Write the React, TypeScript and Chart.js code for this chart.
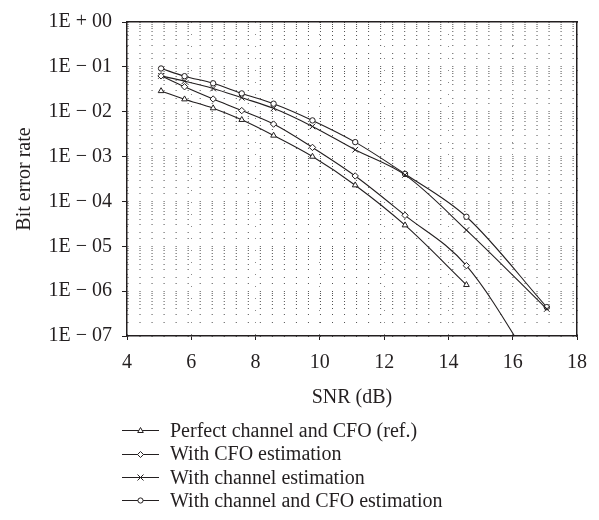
import React, { useEffect, useRef } from 'react';
import { Chart, registerables } from 'chart.js';

Chart.register(...registerables);

// ---- data ----
const SNR_DB = [5.06, 5.79, 6.68, 7.57, 8.56, 9.77, 11.1, 12.65, 14.56, 17.06];
const BER_PERFECT = [2.9e-2, 1.9e-2, 1.2e-2, 6.6e-3, 2.95e-3, 1.0e-3, 2.3e-4, 2.95e-5, 1.38e-6];
const BER_CFO_EST = [6.3e-2, 3.6e-2, 1.92e-2, 1.06e-2, 5.3e-3, 1.6e-3, 3.7e-4, 4.9e-5, 3.7e-6, 7e-9];
const BER_CHAN_EST = [6.3e-2, 4.8e-2, 3.3e-2, 2.05e-2, 1.19e-2, 4.7e-3, 1.42e-3, 3.9e-4, 2.3e-5, 4.0e-7];
const BER_CHAN_CFO_EST = [9.2e-2, 6.2e-2, 4.3e-2, 2.56e-2, 1.51e-2, 6.4e-3, 2.1e-3, 4.1e-4, 4.55e-5, 4.4e-7];

const SERIES_LABELS = [
  'Perfect channel and CFO (ref.)',
  'With CFO estimation',
  'With channel estimation',
  'With channel and CFO estimation',
];
const X_TICKS = [4, 6, 8, 10, 12, 14, 16, 18];
const X_TITLE = 'SNR (dB)';
const Y_TITLE = 'Bit error rate';

const INK = '#231f20';
const FONT = "'Liberation Serif', 'Times New Roman', serif";

const isDecade = (v: number) => {
  const l = Math.log10(v);
  return Math.abs(l - Math.round(l)) < 1e-6;
};
const fmtDecade = (v: number) => {
  if (!isDecade(v)) return '';
  const e = Math.round(Math.log10(v));
  const sign = e >= 0 ? '+' : '\u2212';
  return `1E ${sign} ${String(Math.abs(e)).padStart(2, '0')}`;
};

const toPoints = (ys: number[]) => ys.map((y, i) => ({ x: SNR_DB[i], y }));

function LegendIcon({ kind }: { kind: number }) {
  const cx = 18.5, cy = 6.5;
  let marker: React.ReactNode = null;
  if (kind === 0) marker = <polygon points={`${cx},${cy - 3} ${cx + 2.8},${cy + 2} ${cx - 2.8},${cy + 2}`} fill="#fff" stroke={INK} strokeWidth={1} />;
  if (kind === 1) marker = <polygon points={`${cx},${cy - 3} ${cx + 3},${cy} ${cx},${cy + 3} ${cx - 3},${cy}`} fill="#fff" stroke={INK} strokeWidth={1} />;
  if (kind === 2) marker = (
    <g stroke={INK} strokeWidth={1}>
      <line x1={cx - 3} y1={cy - 3} x2={cx + 3} y2={cy + 3} />
      <line x1={cx - 3} y1={cy + 3} x2={cx + 3} y2={cy - 3} />
    </g>
  );
  if (kind === 3) marker = <circle cx={cx} cy={cy} r={2.6} fill="#fff" stroke={INK} strokeWidth={1} />;
  return (
    <svg width={37} height={13} style={{ display: 'block' }}>
      <line x1={0} y1={cy} x2={37} y2={cy} stroke={INK} strokeWidth={1.1} />
      {marker}
    </svg>
  );
}

export default function App() {
  const ref = useRef<HTMLCanvasElement | null>(null);

  useEffect(() => {
    if (!ref.current) return;
    Chart.defaults.font.family = FONT;
    Chart.defaults.color = INK;

    const common = {
      borderColor: INK,
      borderWidth: 1.1,
      pointBorderColor: INK,
      pointBackgroundColor: '#ffffff',
      pointBorderWidth: 1,
      cubicInterpolationMode: 'monotone' as const,
      fill: false,
    };

    const chart = new Chart(ref.current, {
      type: 'line',
      data: {
        datasets: [
          { ...common, label: SERIES_LABELS[0], data: toPoints(BER_PERFECT), pointStyle: 'triangle', pointRadius: 3.3 },
          { ...common, label: SERIES_LABELS[1], data: toPoints(BER_CFO_EST), pointStyle: 'rectRot', pointRadius: 3.2 },
          { ...common, label: SERIES_LABELS[2], data: toPoints(BER_CHAN_EST), pointStyle: 'crossRot', pointRadius: 4 },
          { ...common, label: SERIES_LABELS[3], data: toPoints(BER_CHAN_CFO_EST), pointStyle: 'circle', pointRadius: 2.7 },
        ],
      },
      options: {
        responsive: false,
        animation: false,
        devicePixelRatio: 1,
        layout: { padding: { left: 0, top: 20, right: 22, bottom: 0 } },
        plugins: { legend: { display: false }, tooltip: { enabled: false } },
        scales: {
          x: {
            type: 'linear',
            position: 'bottom',
            min: 4,
            max: 18,
            afterBuildTicks: (s: any) => { s.ticks = X_TICKS.map((v) => ({ value: v })); },
            afterFit: (s: any) => { s.height = 84; },
            ticks: { font: { size: 20 }, color: INK, padding: 11, maxRotation: 0 },
            grid: {
              color: '#8a8a8a',
              lineWidth: 1,
              drawTicks: true,
              tickLength: 4,
              tickColor: INK,
              tickBorderDash: [],
            },
            border: { display: true, color: INK, width: 1.5, dash: [1, 11] },
            title: { display: true, text: X_TITLE, font: { size: 20 }, color: INK, padding: { top: 0, bottom: 10 } },
          },
          y: {
            type: 'logarithmic',
            position: 'left',
            min: 1e-7,
            max: 1,
            afterFit: (s: any) => { s.width = 127; },
            ticks: {
              autoSkip: false,
              font: { size: 20 },
              color: INK,
              padding: 10,
              callback: (v: any) => fmtDecade(Number(v)),
            },
            grid: {
              color: '#505050',
              lineWidth: 1,
              drawTicks: true,
              tickLength: 5,
              tickColor: (ctx: any) => (ctx.tick && isDecade(ctx.tick.value) ? INK : 'rgba(0,0,0,0)'),
              tickBorderDash: [],
            },
            border: { display: true, color: INK, width: 1.5, dash: [1, 11.03] },
            title: { display: true, text: Y_TITLE, font: { size: 20 }, color: INK, padding: { top: 13, bottom: 0 } },
          },
          x2: {
            type: 'linear',
            position: 'top',
            min: 4,
            max: 18,
            afterFit: (s: any) => { s.height = 0; },
            ticks: { display: false },
            grid: { display: false, drawTicks: false },
            border: { display: true, color: INK, width: 1.5 },
          },
          y2: {
            type: 'linear',
            position: 'right',
            min: 0,
            max: 1,
            afterFit: (s: any) => { s.width = 0; },
            ticks: { display: false },
            grid: { display: false, drawTicks: false },
            border: { display: true, color: INK, width: 1.5 },
          },
        },
      },
    });
    return () => chart.destroy();
  }, []);

  return (
    <div style={{ position: 'absolute', left: 0, top: 0, width: 599, height: 520, background: '#fff' }}>
      <canvas ref={ref} width={599} height={420} style={{ display: 'block' }} />
      <div style={{ position: 'absolute', left: 122, top: 419, fontFamily: FONT, fontSize: 20, color: INK }}>
        {SERIES_LABELS.map((label, i) => (
          <div key={label} style={{ display: 'flex', alignItems: 'center', height: 23.4 }}>
            <LegendIcon kind={i} />
            <span style={{ marginLeft: 11, lineHeight: '23.4px', whiteSpace: 'nowrap' }}>{label}</span>
          </div>
        ))}
      </div>
    </div>
  );
}
